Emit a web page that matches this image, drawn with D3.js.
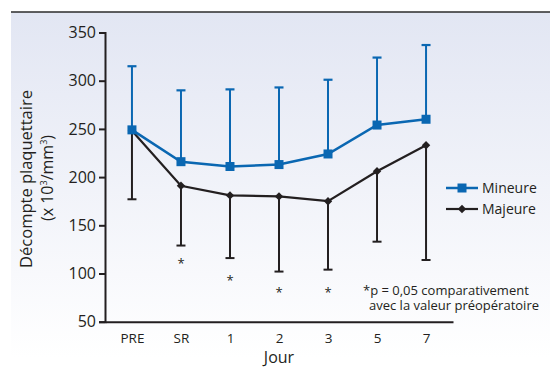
<!DOCTYPE html>
<html>
<head>
<meta charset="utf-8">
<script src="https://cdn.jsdelivr.net/npm/d3@7"></script>
<style>
  body{margin:0;background:#fff;}
  text{font-family:"Open Sans",sans-serif;fill:#231f20;}
</style>
</head>
<body>
<div id="chart-area"></div>
<script>
/*
*    plaquettes - décompte par jour
*/

var days=["PRE","SR","1","2","3","5","7"];
var mineure=[249,216,211,213,224,254,260];
var mineureHaut=[315,290,291,293,301,324,337];
var majeure=[248,191,181,180,175,206,233];
var majeureBas=[177,129,116,102,104,133,114];
// asterisques (p = 0,05), position verticale en unités de l'axe
var signifDays=["SR","1","2","3"];
var signifPos=[113,95,83,83];
var yTicks=[50,100,150,200,250,300,350];

var blue="#0a67b2";
var dark="#231f20";

var width=550, height=368;

var svg=d3.select("#chart-area").append("svg")
    .attr("width",width)
    .attr("height",height);

var grad=svg.append("defs").append("linearGradient")
    .attr("id","bg")
    .attr("x1",0).attr("y1",0).attr("x2",0).attr("y2",1);
grad.append("stop").attr("offset","0%").attr("stop-color","#e2e6f3");
grad.append("stop").attr("offset","100%").attr("stop-color","#ffffff");

svg.append("rect")
    .attr("x",11).attr("y",12)
    .attr("width",width-11).attr("height",346)
    .attr("fill","url(#bg)");

svg.append("line")
    .attr("x1",11).attr("x2",width)
    .attr("y1",12).attr("y2",12)
    .attr("stroke","#2b2b2b")
    .attr("stroke-width",1.5);

var x=d3.scalePoint()
    .domain(days)
    .range([105,453])
    .padding(0.55);

var y=d3.scaleLinear()
    .domain([50,350])
    .range([321.7,32.5]);

var leftAxis=d3.axisLeft(y)
    .tickValues(yTicks)
    .tickSize(6)
    .tickPadding(3);

var bottomAxis=d3.axisBottom(x)
    .tickSize(0)
    .tickPadding(12);

var yAxisG=svg.append("g")
    .attr("transform","translate(105,0)")
    .call(leftAxis);
yAxisG.select(".domain").attr("stroke",dark).attr("stroke-width",2);
yAxisG.selectAll(".tick line").attr("stroke",dark).attr("stroke-width",2);
yAxisG.selectAll(".tick text")
    .attr("font-size","16px")
    .attr("font-family","'Open Sans',sans-serif")
    .attr("fill",dark);

var xAxisG=svg.append("g")
    .attr("transform","translate(0,"+y(50)+")")
    .call(bottomAxis);
xAxisG.select(".domain").attr("stroke",dark).attr("stroke-width",2);
xAxisG.selectAll(".tick text")
    .attr("font-size","13.5px")
    .attr("font-family","'Open Sans',sans-serif")
    .attr("fill",dark);

svg.append("text")
    .attr("x",279)
    .attr("y",363)
    .attr("font-size","16px")
    .attr("text-anchor","middle")
    .text("Jour");

svg.append("text")
    .attr("transform","translate(32,179) rotate(-90)")
    .attr("font-size","16.5px")
    .attr("text-anchor","middle")
    .text("Décompte plaquettaire");

var unit=svg.append("text")
    .attr("transform","translate(53,178) rotate(-90)")
    .attr("font-size","16px")
    .attr("text-anchor","middle");
unit.append("tspan").text("(x 10");
unit.append("tspan").attr("font-size","9px").attr("dy",-6).text("3");
unit.append("tspan").attr("dy",6).text("/mm");
unit.append("tspan").attr("font-size","9px").attr("dy",-6).text("3");
unit.append("tspan").attr("dy",6).text(")");

var line=d3.line()
    .x((d,i)=>{return x(days[i]);})
    .y((d)=>{return y(d);});

// Majeure : barres vers le bas
var gMaj=svg.append("g");
days.forEach((d,i)=>{
    gMaj.append("line")
        .attr("x1",x(d)).attr("x2",x(d))
        .attr("y1",y(majeure[i])).attr("y2",y(majeureBas[i]))
        .attr("stroke",dark).attr("stroke-width",2);
    gMaj.append("line")
        .attr("x1",x(d)-4.5).attr("x2",x(d)+4.5)
        .attr("y1",y(majeureBas[i])).attr("y2",y(majeureBas[i]))
        .attr("stroke",dark).attr("stroke-width",2);
});
gMaj.append("path")
    .datum(majeure)
    .attr("d",line)
    .attr("fill","none")
    .attr("stroke",dark)
    .attr("stroke-width",2.2);
gMaj.selectAll("path.pt")
    .data(majeure)
    .enter().append("path")
    .attr("class","pt")
    .attr("d",d3.symbol().type(d3.symbolDiamond2).size(45))
    .attr("transform",(d,i)=>{return "translate("+x(days[i])+","+y(d)+")";})
    .attr("fill",dark);

// Mineure : barres vers le haut
var gMin=svg.append("g");
days.forEach((d,i)=>{
    gMin.append("line")
        .attr("x1",x(d)).attr("x2",x(d))
        .attr("y1",y(mineure[i])).attr("y2",y(mineureHaut[i]))
        .attr("stroke",blue).attr("stroke-width",2);
    gMin.append("line")
        .attr("x1",x(d)-4.5).attr("x2",x(d)+4.5)
        .attr("y1",y(mineureHaut[i])).attr("y2",y(mineureHaut[i]))
        .attr("stroke",blue).attr("stroke-width",2.2);
});
gMin.append("path")
    .datum(mineure)
    .attr("d",line)
    .attr("fill","none")
    .attr("stroke",blue)
    .attr("stroke-width",2.5);
gMin.selectAll("rect")
    .data(mineure)
    .enter().append("rect")
    .attr("x",(d,i)=>{return x(days[i])-4.5;})
    .attr("y",(d)=>{return y(d)-4.5;})
    .attr("width",9)
    .attr("height",9)
    .attr("fill",blue);

// astérisques
svg.selectAll("text.star")
    .data(signifPos)
    .enter().append("text")
    .attr("class","star")
    .attr("x",(d,i)=>{return x(signifDays[i]);})
    .attr("y",(d)=>{return y(d)+7;})
    .attr("font-size","13px")
    .attr("text-anchor","middle")
    .text("*");

// légende
var legend=svg.append("g")
    .attr("transform","translate(446,188)");

var row1=legend.append("g");
row1.append("line")
    .attr("x1",0).attr("x2",32)
    .attr("stroke",blue).attr("stroke-width",2.5);
row1.append("rect")
    .attr("x",11.5).attr("y",-4.5)
    .attr("width",9).attr("height",9)
    .attr("fill",blue);
row1.append("text")
    .attr("x",36).attr("y",5)
    .attr("font-size","14px")
    .text("Mineure");

var row2=legend.append("g")
    .attr("transform","translate(0,21)");
row2.append("line")
    .attr("x1",0).attr("x2",32)
    .attr("stroke",dark).attr("stroke-width",2.2);
row2.append("path")
    .attr("d",d3.symbol().type(d3.symbolDiamond2).size(45))
    .attr("transform","translate(16,0)")
    .attr("fill",dark);
row2.append("text")
    .attr("x",36).attr("y",5)
    .attr("font-size","14px")
    .text("Majeure");

// note (un seul bloc sur deux lignes)
var note=svg.append("text")
    .attr("font-size","13px");
note.append("tspan")
    .attr("x",363).attr("y",295)
    .text("*p = 0,05 comparativement");
note.append("tspan")
    .attr("x",369).attr("y",310)
    .text("avec la valeur préopératoire");
</script>
</body>
</html>
